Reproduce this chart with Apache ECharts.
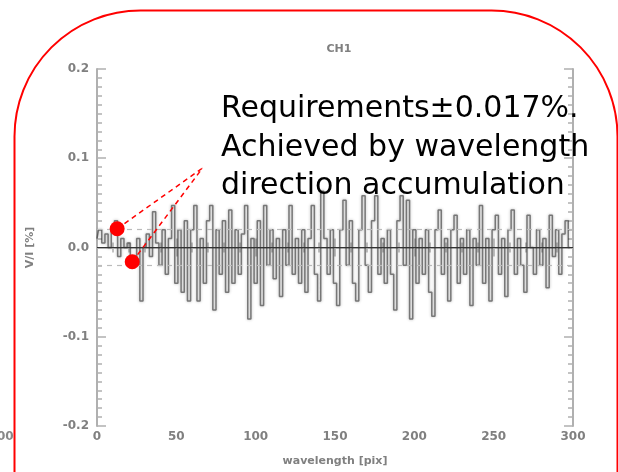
<!DOCTYPE html>
<html>
<head>
<meta charset="utf-8">
<script src="https://cdn.jsdelivr.net/npm/echarts@6/dist/echarts.min.js"></script>
<style>html,body{margin:0;padding:0;background:#fff}#c{width:618px;height:472px}</style>
</head>
<body>
<div id="c"></div>
<script>
// ---- data ----
var chartTitle = 'CH1';
var xName = 'wavelength [pix]';
var yName = 'V/I [%]';
var xTicks = [0, 50, 100, 150, 200, 250, 300];
var yTicks = [-0.2, -0.1, 0.0, 0.1, 0.2];
var pixStep = 2; // wavelength spacing of the samples below
var viValues = [
  0.01, 0.02, 0.005, 0.015, 0.0, 0.02, 0.03, -0.01, 0.01, 0.0,
  0.005, -0.02, -0.01, 0.01, -0.06, 0.0, 0.015, -0.01, 0.04, 0.005,
  -0.02, 0.02, -0.03, 0.01, 0.047, -0.04, 0.02, -0.05, 0.03, -0.06,
  0.02, 0.047, -0.06, 0.01, -0.04, 0.03, 0.047, -0.07, 0.02, -0.03,
  0.03, -0.05, 0.042, -0.04, 0.02, -0.03, 0.015, 0.047, -0.08, 0.01,
  -0.04, 0.03, -0.065, 0.047, -0.02, 0.02, -0.035, 0.01, -0.055, 0.02,
  -0.02, 0.047, -0.03, 0.01, -0.04, 0.02, -0.05, 0.01, 0.047, -0.03,
  -0.06, 0.063, 0.01, -0.03, 0.02, -0.04, -0.065, 0.02, 0.053, -0.02,
  0.03, -0.04, -0.06, 0.02, 0.058, -0.02, -0.05, 0.03, 0.058, -0.03,
  0.01, -0.04, 0.02, -0.03, -0.07, 0.03, 0.058, -0.02, 0.053, -0.08,
  0.02, -0.04, 0.01, -0.03, 0.02, -0.05, -0.077, 0.02, 0.042, -0.03,
  0.01, -0.06, 0.02, 0.036, -0.04, 0.01, -0.03, 0.02, -0.065, 0.01,
  -0.02, 0.047, -0.04, 0.01, -0.06, 0.02, 0.036, -0.03, 0.01, -0.055,
  0.02, 0.042, -0.03, 0.01, -0.02, -0.05, 0.036, 0.0, -0.03, 0.02,
  -0.02, 0.01, -0.045, 0.036, -0.01, 0.02, -0.03, 0.015, 0.03, 0.0
];
var requirement = 0.017;
var annotationLines = ['Requirements\u00b10.017%.', 'Achieved by wavelength', 'direction accumulation'];
var markerPoints = [[12.7, 0.021], [22.2, -0.016]];
var calloutTip = [66.5, 0.089];

// ---- chart ----
var seriesData = viValues.map(function (v, i) { return [i * pixStep, v]; });
var axisGray = '#b0b0b0';
var labelGray = '#808080';

function xAx(pos, showLabel) {
  return {
    type: 'value', position: pos, min: 0, max: 300, interval: 50,
    axisLine: { show: true, lineStyle: { color: axisGray, width: 2 } },
    axisTick: { show: true, inside: true, length: 9, lineStyle: { color: axisGray, width: 1.5 } },
    minorTick: { show: true, splitNumber: 5, length: 5, lineStyle: { color: axisGray, width: 1.5 } },
    splitLine: { show: false },
    axisLabel: { show: showLabel, color: labelGray, fontSize: 12, fontWeight: 'bold', margin: 5,
      fontFamily: 'DejaVu Sans',
      formatter: function (v) { return xTicks.indexOf(v) >= 0 ? String(v) : ''; } },
    name: showLabel ? xName : '', nameLocation: 'middle', nameGap: 30,
    nameTextStyle: { color: labelGray, fontSize: 11, fontWeight: 'bold', fontFamily: 'DejaVu Sans' }
  };
}
function yAx(pos, showLabel) {
  return {
    type: 'value', position: pos, min: -0.2, max: 0.2, interval: 0.1,
    axisLine: { show: true, onZero: false, lineStyle: { color: axisGray, width: 2 } },
    axisTick: { show: true, inside: true, length: 9, lineStyle: { color: axisGray, width: 1.5 } },
    minorTick: { show: true, splitNumber: 10, length: 5, lineStyle: { color: axisGray, width: 1.5 } },
    splitLine: { show: false },
    axisLabel: { show: showLabel, color: labelGray, fontSize: 12, fontWeight: 'bold', margin: 8,
      fontFamily: 'DejaVu Sans',
      formatter: function (v) { return v.toFixed(1); } },
    name: showLabel ? yName : '', nameLocation: 'middle', nameGap: 61, nameRotate: 90,
    nameTextStyle: { color: labelGray, fontSize: 11, fontWeight: 'bold', fontFamily: 'DejaVu Sans' }
  };
}

var chart = echarts.init(document.getElementById('c'), null, { renderer: 'canvas' });
chart.setOption({
  animation: false,
  backgroundColor: '#fff',
  title: { text: chartTitle, left: 334, top: 39, textAlign: 'center',
    textStyle: { color: labelGray, fontSize: 11, fontWeight: 'bold', fontFamily: 'DejaVu Sans' } },
  grid: { left: 97, right: 45, top: 69, bottom: 46 },
  xAxis: [xAx('bottom', true), xAx('top', false)],
  yAxis: [yAx('left', true), yAx('right', false)],
  series: [
    {
      type: 'line', data: seriesData, step: 'middle', symbol: 'none',
      lineStyle: { color: '#333', width: 1.5, opacity: 0.6, shadowBlur: 3, shadowColor: 'rgba(0,0,0,0.5)' },
      markLine: {
        silent: true, symbol: 'none', label: { show: false },
        data: [
          { yAxis: 0, lineStyle: { color: '#333', width: 1.2, type: 'solid' } },
          { yAxis: requirement, lineStyle: { color: '#bbb', width: 1.2, type: [5, 5] } },
          { yAxis: -requirement, lineStyle: { color: '#bbb', width: 1.2, type: [5, 5] } }
        ]
      }
    },
    {
      type: 'line', data: [markerPoints[0], calloutTip], symbol: 'none',
      lineStyle: { color: '#ff0000', width: 1.5, type: [5, 4] }, z: 5
    },
    {
      type: 'line', data: [markerPoints[1], calloutTip], symbol: 'none',
      lineStyle: { color: '#ff0000', width: 1.5, type: [5, 4] }, z: 5
    },
    {
      type: 'scatter', data: markerPoints, symbolSize: 15,
      itemStyle: { color: '#ff0000', opacity: 1 }, z: 6
    }
  ],
  graphic: [
    { type: 'rect', left: 12, top: 8, z: 100, silent: true,
      shape: { width: 603, height: 800, r: 126 },
      style: { fill: 'none', stroke: '#ff0000', lineWidth: 2 } },
    { type: 'text', left: 221, top: 94, z: 100,
      style: { text: annotationLines[0], font: '30px "DejaVu Sans"', fill: '#000' } },
    { type: 'text', left: 221, top: 133, z: 100,
      style: { text: annotationLines[1], font: '30px "DejaVu Sans"', fill: '#000' } },
    { type: 'text', left: 221, top: 171, z: 100,
      style: { text: annotationLines[2], font: '30px "DejaVu Sans"', fill: '#000' } },
    { type: 'text', left: -3, top: 431, z: 100,
      style: { text: '00', font: 'bold 12px "DejaVu Sans"', fill: '#888' } }
  ]
});
</script>
</body>
</html>
